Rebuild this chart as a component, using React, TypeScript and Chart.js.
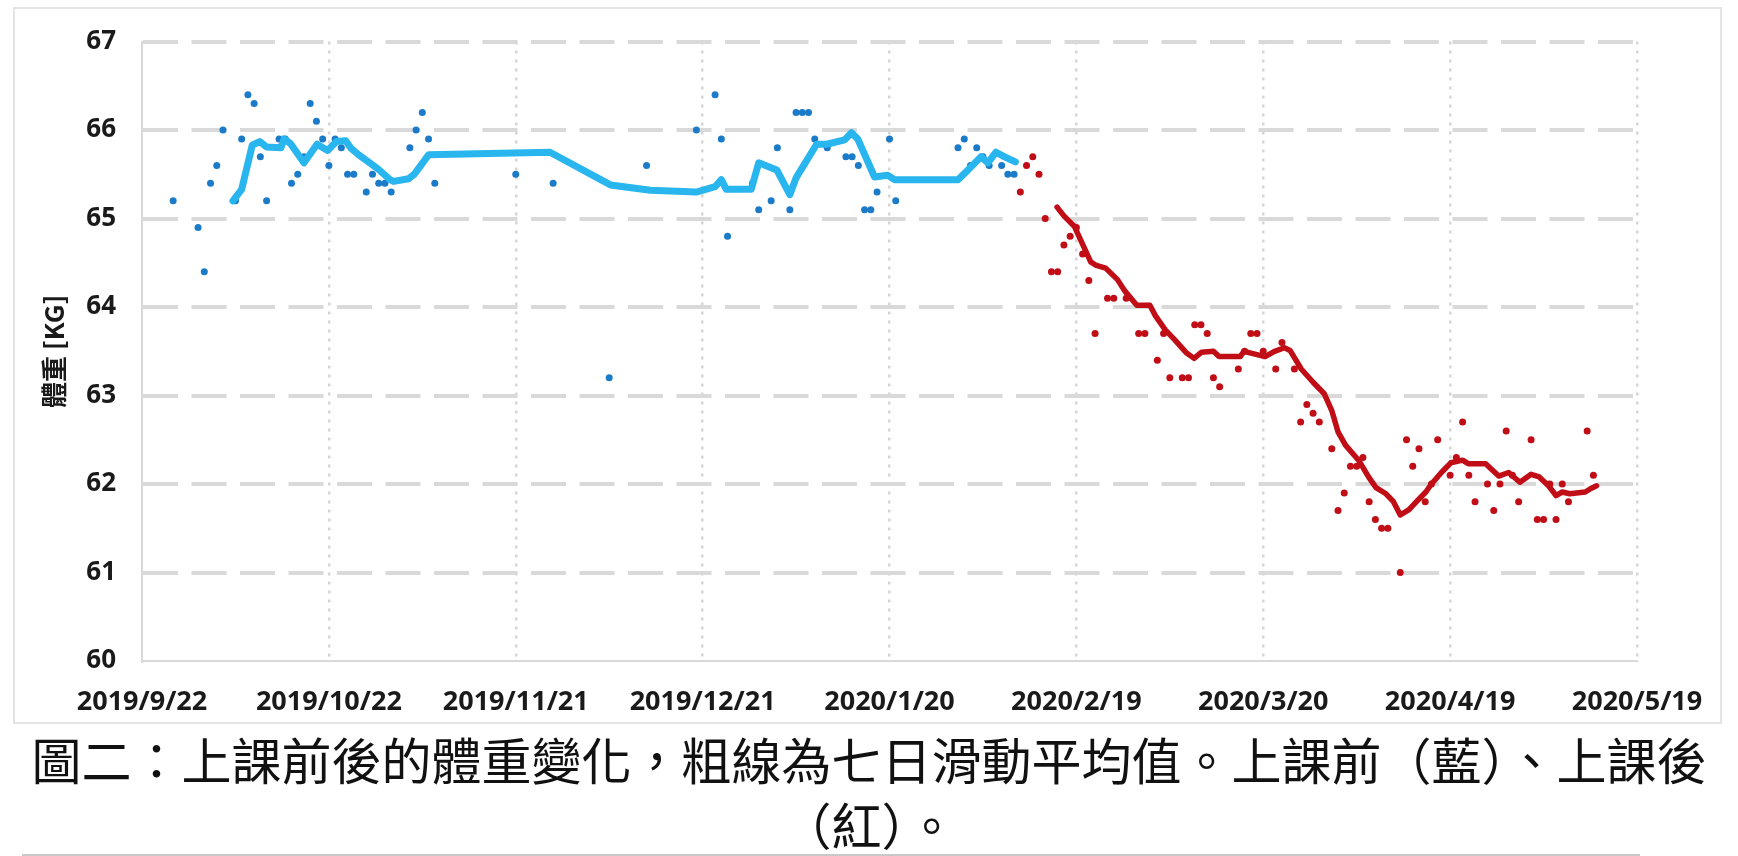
import { Chart, registerables } from "chart.js";
import { useEffect, useRef } from "react";

Chart.register(...registerables);

// x axis is "days since 2019/9/22", one tick every 30 days
const xTickLabels = [
  "2019/9/22",
  "2019/10/22",
  "2019/11/21",
  "2019/12/21",
  "2020/1/20",
  "2020/2/19",
  "2020/3/20",
  "2020/4/19",
  "2020/5/19",
];

// before the class (blue): daily weigh-ins
const beforeDays = [
  5, 9, 10, 11, 12, 13, 15, 16, 17, 18, 19, 20, 22, 23, 24, 25, 26, 27, 28, 29,
  30, 31, 32, 33, 34, 36, 37, 38, 39, 40, 43, 44, 45, 46, 47, 60, 66, 75, 81,
  89, 92, 93, 94, 98, 99, 101, 102, 104, 105, 106, 107, 108, 110, 113, 114, 115,
  116, 117, 118, 120, 121, 131, 132, 133, 134, 135, 136, 138, 139, 140,
];
const beforeWeights = [
  65.2, 64.9, 64.4, 65.4, 65.6, 66.0, 65.2, 65.9, 66.4, 66.3, 65.7, 65.2, 65.9,
  65.9, 65.4, 65.5, 65.7, 66.3, 66.1, 65.9, 65.6, 65.9, 65.8, 65.5, 65.5, 65.3,
  65.5, 65.4, 65.4, 65.3, 65.8, 66.0, 66.2, 65.9, 65.4, 65.5, 65.4, 63.2, 65.6,
  66.0, 66.4, 65.9, 64.8, 65.4, 65.1, 65.2, 65.8, 65.1, 66.2, 66.2, 66.2, 65.9,
  65.8, 65.7, 65.7, 65.6, 65.1, 65.1, 65.3, 65.9, 65.2, 65.8, 65.9, 65.6, 65.8,
  65.7, 65.6, 65.6, 65.5, 65.5,
];

// before: 7-day moving average
const beforeAvgDays = [
  14.6, 16, 17.7, 18.9, 20, 22.3, 22.8, 23.8, 26, 28.1, 29.8, 31.2, 32.7, 33.6,
  34.8, 37.9, 39.8, 40.4, 42.8, 43.7, 46, 65.5, 75.2, 81.6, 89, 92, 93, 93.8,
  97.8, 99, 101.9, 104, 105, 108.3, 109.9, 112.8, 113.9, 114.9, 117.6, 119.7,
  120.8, 131, 132.6, 134.7, 135.8, 137.1, 138.4, 140.2,
];
const beforeAvgWeights = [
  65.2, 65.33, 65.83, 65.87, 65.81, 65.8, 65.9, 65.85, 65.63, 65.84, 65.77,
  65.87, 65.88, 65.79, 65.72, 65.56, 65.44, 65.42, 65.45, 65.5, 65.72, 65.75,
  65.38, 65.32, 65.3, 65.36, 65.44, 65.33, 65.33, 65.63, 65.55, 65.27, 65.46,
  65.84, 65.84, 65.89, 65.97, 65.9, 65.47, 65.49, 65.44, 65.44, 65.55, 65.7,
  65.63, 65.75, 65.7, 65.64,
];

// after the class (red): daily weigh-ins
const afterDays = [
  141, 142, 143, 144, 145, 146, 147, 148, 149, 150, 151, 152, 153, 155, 156,
  158, 160, 161, 163, 164, 165, 167, 168, 169, 170, 171, 172, 173, 176, 177,
  178, 179, 180, 182, 183, 185, 186, 187, 188, 189, 191, 192, 193, 194, 195,
  196, 197, 198, 199, 200, 202, 203, 204, 205, 206, 207, 208, 210, 211, 212,
  213, 214, 216, 217, 218, 219, 220, 221, 223, 224, 225, 226, 227, 228, 229,
  232, 233,
];
const afterWeights = [
  65.3, 65.6, 65.7, 65.5, 65.0, 64.4, 64.4, 64.7, 64.8, 64.9, 64.6, 64.3, 63.7,
  64.1, 64.1, 64.1, 63.7, 63.7, 63.4, 63.7, 63.2, 63.2, 63.2, 63.8, 63.8, 63.7,
  63.2, 63.1, 63.3, 63.5, 63.7, 63.7, 63.5, 63.3, 63.6, 63.3, 62.7, 62.9, 62.8,
  62.7, 62.4, 61.7, 61.9, 62.2, 62.2, 62.3, 61.8, 61.6, 61.5, 61.5, 61.0, 62.5,
  62.2, 62.4, 61.8, 62.0, 62.5, 62.1, 62.3, 62.7, 62.1, 61.8, 62.0, 61.7, 62.0,
  62.6, 62.1, 61.8, 62.5, 61.6, 61.6, 62.0, 61.6, 62.0, 61.8, 62.6, 62.1,
];

// after: 7-day moving average
const afterAvgDays = [
  146.9, 148, 149.7, 152.3, 153.2, 154.7, 156.6, 157.8, 159.7, 161.8, 162.7,
  164.3, 165.8, 167.7, 168.9, 170.1, 172, 172.9, 176.3, 176.9, 180.3, 181.8,
  183.4, 184.3, 186.1, 188, 189.8, 191, 192, 193.2, 195.4, 196.9, 198.1, 199.7,
  200.9, 202, 203.4, 204.6, 206.1, 207, 208.6, 210.1, 212, 212.9, 215.7, 217.2,
  217.8, 219.4, 221.2, 223, 224.3, 225.8, 227, 228, 229.2, 231.7, 232.6, 233.5,
];
const afterAvgWeights = [
  65.13, 65.03, 64.91, 64.51, 64.47, 64.44, 64.31, 64.18, 64.02, 64.02, 63.9,
  63.74, 63.63, 63.48, 63.42, 63.49, 63.5, 63.44, 63.44, 63.5, 63.44, 63.5,
  63.54, 63.51, 63.3, 63.15, 63.02, 62.83, 62.59, 62.44, 62.26, 62.08, 61.96,
  61.89, 61.8, 61.65, 61.71, 61.8, 61.91, 62.0, 62.13, 62.24, 62.27, 62.23,
  62.23, 62.13, 62.09, 62.13, 62.02, 62.11, 62.08, 61.98, 61.87, 61.91, 61.89,
  61.91, 61.95, 61.98,
];

const toPoints = (xs: number[], ys: number[]) =>
  xs.map((x, i) => ({ x, y: ys[i] }));

const BLUE_DOT = "#1b7bc8";
const BLUE_LINE = "#29b5ee";
const RED = "#c00d16";
const GRID = "#d9d9d9";

const WeightChart = () => {
  const canvasRef = useRef<HTMLCanvasElement | null>(null);

  useEffect(() => {
    if (!canvasRef.current) return;
    const chart = new Chart(canvasRef.current, {
      type: "scatter",
      data: {
        datasets: [
          {
            data: toPoints(beforeAvgDays, beforeAvgWeights),
            showLine: true,
            borderColor: BLUE_LINE,
            borderWidth: 7,
            borderCapStyle: "round",
            borderJoinStyle: "round",
            pointRadius: 0,
            order: 0,
          },
          {
            data: toPoints(afterAvgDays, afterAvgWeights),
            showLine: true,
            borderColor: RED,
            borderWidth: 5.5,
            borderCapStyle: "round",
            borderJoinStyle: "round",
            pointRadius: 0,
            order: 0,
          },
          {
            data: toPoints(beforeDays, beforeWeights),
            backgroundColor: BLUE_DOT,
            borderWidth: 0,
            pointRadius: 3.5,
            order: 1,
          },
          {
            data: toPoints(afterDays, afterWeights),
            backgroundColor: RED,
            borderWidth: 0,
            pointRadius: 3.5,
            order: 1,
          },
        ],
      },
      options: {
        animation: false,
        responsive: true,
        maintainAspectRatio: false,
        layout: { padding: { top: 31, right: 101, left: 0, bottom: 0 } },
        plugins: {
          legend: { display: false },
          tooltip: { enabled: false },
        },
        scales: {
          x: {
            type: "linear",
            min: 0,
            max: 240,
            afterFit: (scale) => {
              scale.height = 61;
            },
            ticks: {
              stepSize: 30,
              autoSkip: false,
              maxRotation: 0,
              padding: 25,
              color: "#1a1a1a",
              font: { family: "'Noto Sans'", size: 27, weight: "bold" },
              callback: (v) => xTickLabels[Math.round(Number(v) / 30)] ?? "",
            },
            grid: {
              drawTicks: false,
              color: (ctx) => (ctx.index === 0 ? "rgba(0,0,0,0)" : "#d6d6d6"),
              lineWidth: 2.5,
            },
            border: { display: true, color: GRID, width: 2, dash: [3, 6] },
          },
          y: {
            min: 60,
            max: 67,
            afterFit: (scale) => {
              scale.width = 142;
            },
            ticks: {
              stepSize: 1,
              padding: 26,
              color: "#1a1a1a",
              font: { family: "'Noto Sans'", size: 26, weight: "bold" },
            },
            grid: {
              drawTicks: false,
              color: (ctx) => (ctx.index === 0 ? "rgba(0,0,0,0)" : GRID),
              lineWidth: 4,
            },
            border: { display: true, color: GRID, width: 2, dash: [35, 13.5] },
            title: {
              display: true,
              text: "體重 [KG]",
              color: "#1a1a1a",
              padding: { top: 39, bottom: 0 },
              font: { family: "'Noto Sans CJK TC'", size: 26, weight: "bold" },
            },
          },
        },
      },
    });
    return () => chart.destroy();
  }, []);

  return (
    <div style={{ position: "absolute", left: 0, top: 0, width: 1738, height: 722 }}>
      <canvas ref={canvasRef}></canvas>
    </div>
  );
};

const captionStyle: React.CSSProperties = {
  position: "absolute",
  left: 0,
  width: 1738,
  textAlign: "center",
  fontFamily: "'Noto Sans CJK TC', sans-serif",
  fontSize: 50,
  lineHeight: "64px",
  color: "#111",
  whiteSpace: "nowrap",
};

export default function App() {
  return (
    <div
      style={{
        position: "absolute",
        left: 0,
        top: 0,
        width: 1738,
        height: 856,
        background: "#fff",
        overflow: "hidden",
      }}
    >
      <div
        style={{
          position: "absolute",
          left: 13,
          top: 7,
          width: 1705,
          height: 713,
          border: "2px solid #e4e4e4",
        }}
      />
      <WeightChart />
      <div style={{ ...captionStyle, top: 726 }}>
        圖二：上課前後的體重變化，粗線為七日滑動平均值。上課前（藍）、上課後
      </div>
      <div style={{ ...captionStyle, top: 791 }}>（紅）。</div>
      <div
        style={{
          position: "absolute",
          left: 22,
          top: 854,
          width: 1618,
          height: 2,
          background: "#c8c8c8",
        }}
      />
    </div>
  );
}
